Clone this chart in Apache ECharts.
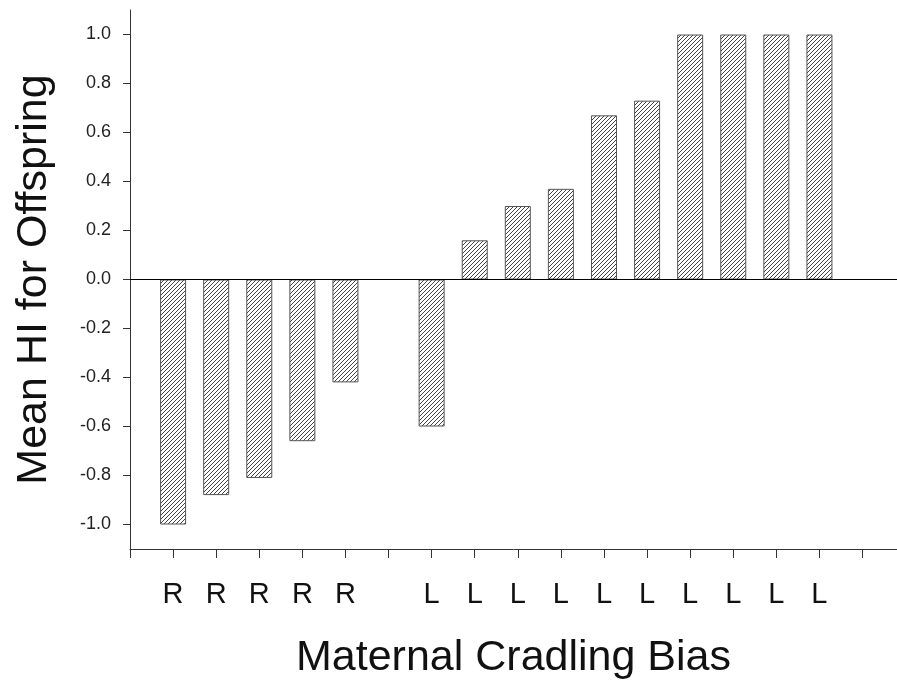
<!DOCTYPE html>
<html>
<head>
<meta charset="utf-8">
<script src="https://cdn.jsdelivr.net/npm/echarts@6/dist/echarts.min.js"></script>
<style>
  html, body { margin: 0; padding: 0; background: #fff; }
  #chart { width: 897px; height: 683px; }
</style>
</head>
<body>
<div id="chart"></div>
<script>
  // one slot per tick, blanks are the gaps
  const categories = ['R', 'R', 'R', 'R', 'R', '', 'L', 'L', 'L', 'L', 'L', 'L', 'L', 'L', 'L', 'L', '']
  const hiValues = [-1.0, -0.88, -0.81, -0.66, -0.42, null, -0.60, 0.16, 0.30, 0.37, 0.67, 0.73, 1.0, 1.0, 1.0, 1.0, null]
  const yTicks = [-1.0, -0.8, -0.6, -0.4, -0.2, 0.0, 0.2, 0.4, 0.6, 0.8, 1.0]

  // hatch fill
  function hatch() {
    const s = 4
    const c = document.createElement('canvas')
    c.width = s
    c.height = s
    const ctx = c.getContext('2d')
    ctx.fillStyle = '#fff'
    ctx.fillRect(0, 0, s, s)
    ctx.strokeStyle = '#444'
    ctx.lineWidth = 1
    ctx.beginPath()
    ctx.moveTo(0, s); ctx.lineTo(s, 0)
    ctx.moveTo(-1, 1); ctx.lineTo(1, -1)
    ctx.moveTo(s - 1, s + 1); ctx.lineTo(s + 1, s - 1)
    ctx.stroke()
    return c
  }

  const barData = []
  hiValues.forEach((v, i) => {
    if (v !== null) barData.push([i + 1, v])
  })
  const xTicks = [0]
  categories.forEach((c, i) => xTicks.push(i + 1))

  const chart = echarts.init(document.getElementById('chart'))
  chart.setOption({
    animation: false,
    textStyle: { fontFamily: 'Liberation Sans' },
    grid: { left: 130, right: 0, top: 10, bottom: 134, outerBoundsMode: 'none' },
    xAxis: {
      type: 'value',
      min: 0,
      max: 17.8,
      interval: 1,
      name: 'Maternal Cradling Bias',
      nameLocation: 'middle',
      nameGap: 88,
      nameTextStyle: { fontSize: 43, color: '#111' },
      axisLine: { onZero: false, lineStyle: { color: '#333', width: 1 } },
      axisTick: { show: true, length: 9, customValues: xTicks, lineStyle: { color: '#333' } },
      axisLabel: {
        customValues: xTicks.slice(1),
        margin: 31,
        fontSize: 29,
        color: '#111',
        formatter: (v) => categories[v - 1] || ''
      },
      splitLine: { show: false }
    },
    yAxis: {
      type: 'value',
      min: -1.1,
      max: 1.1,
      name: 'Mean HI for Offspring',
      nameLocation: 'middle',
      nameGap: 74,
      nameTextStyle: { fontSize: 43, color: '#111' },
      axisLine: { show: true, lineStyle: { color: '#333', width: 1 } },
      axisTick: { show: true, length: 7, customValues: yTicks, lineStyle: { color: '#333' } },
      axisLabel: {
        customValues: yTicks,
        margin: 19,
        fontSize: 18,
        color: '#222',
        formatter: (v) => v.toFixed(1)
      },
      splitLine: { show: false }
    },
    series: [
      {
        type: 'bar',
        data: barData,
        barWidth: 26,
        itemStyle: {
          color: { image: hatch(), repeat: 'repeat' },
          borderColor: '#555',
          borderWidth: 1
        },
        markLine: {
          silent: true,
          symbol: 'none',
          label: { show: false },
          lineStyle: { color: '#000', type: 'solid', width: 1 },
          data: [{ yAxis: 0 }]
        }
      }
    ]
  })
</script>
</body>
</html>
